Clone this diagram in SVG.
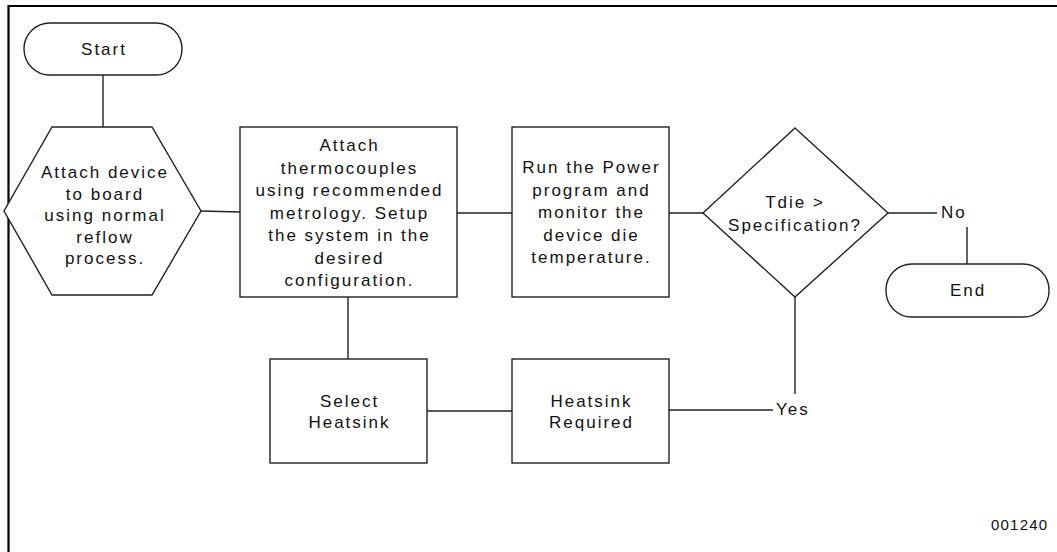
<svg xmlns="http://www.w3.org/2000/svg" width="1057" height="552" viewBox="0 0 1057 552">
<style>
.s{fill:#fff;stroke:#222;stroke-width:1.4}
.c{fill:none;stroke:#222;stroke-width:1.4}
text{font-family:"Liberation Sans",Arial,sans-serif;font-size:17px;letter-spacing:2px;fill:#111}
.m{text-anchor:middle}
</style>
<rect width="1057" height="552" fill="#fff"/>
<path d="M8.5,552 V6 H1057" fill="none" stroke="#000" stroke-width="2.2"/>
<g id="connectors">
<line class="c" x1="103" y1="75" x2="103" y2="127"/>
<line class="c" x1="201" y1="211" x2="240" y2="212"/>
<line class="c" x1="457" y1="213" x2="512" y2="213"/>
<line class="c" x1="669" y1="213" x2="703" y2="213"/>
<line class="c" x1="888" y1="213" x2="937" y2="213"/>
<line class="c" x1="967" y1="227" x2="967" y2="264"/>
<line class="c" x1="795" y1="297" x2="795" y2="394"/>
<line class="c" x1="669" y1="410" x2="773" y2="410"/>
<line class="c" x1="427" y1="411" x2="512" y2="411"/>
<line class="c" x1="348" y1="297" x2="348" y2="359"/>
</g>
<g id="start">
<rect class="s" x="24" y="23" width="158" height="52" rx="26"/>
<text class="m" x="104" y="55">Start</text>
</g>
<g id="attach-device">
<polygon class="s" points="52,127 152,127 201,211 152,295 52,295 4,211"/>
<text class="m" x="105" y="178">Attach device</text>
<text class="m" x="105" y="199.5">to board</text>
<text class="m" x="105" y="221">using normal</text>
<text class="m" x="105" y="242.5">reflow</text>
<text class="m" x="105" y="264">process.</text>
</g>
<g id="attach-thermocouples">
<rect class="s" x="240" y="127" width="217" height="170"/>
<text class="m" x="349.5" y="151">Attach</text>
<text class="m" x="349.5" y="173.5">thermocouples</text>
<text class="m" x="349.5" y="196">using recommended</text>
<text class="m" x="349.5" y="218.5">metrology. Setup</text>
<text class="m" x="349.5" y="241">the system in the</text>
<text class="m" x="349.5" y="263.5">desired</text>
<text class="m" x="349.5" y="286">configuration.</text>
</g>
<g id="run-power">
<rect class="s" x="512" y="127" width="157" height="170"/>
<text class="m" x="591.5" y="173">Run the Power</text>
<text class="m" x="591.5" y="195.5">program and</text>
<text class="m" x="591.5" y="218">monitor the</text>
<text class="m" x="591.5" y="240.5">device die</text>
<text class="m" x="591.5" y="263">temperature.</text>
</g>
<g id="decision">
<polygon class="s" points="795,128 888,213 795,297 703,213"/>
<text class="m" x="795" y="208">Tdie &gt;</text>
<text class="m" x="795" y="230.5">Specification?</text>
</g>
<g id="no-label">
<text x="941" y="218">No</text>
</g>
<g id="end">
<rect class="s" x="886" y="264" width="163" height="53" rx="26"/>
<text class="m" x="968" y="296">End</text>
</g>
<g id="yes-label">
<text x="776" y="415">Yes</text>
</g>
<g id="heatsink-required">
<rect class="s" x="512" y="359" width="157" height="104"/>
<text class="m" x="591.5" y="406.5">Heatsink</text>
<text class="m" x="591.5" y="428">Required</text>
</g>
<g id="select-heatsink">
<rect class="s" x="270" y="359" width="157" height="104"/>
<text class="m" x="349.5" y="406.5">Select</text>
<text class="m" x="349.5" y="428">Heatsink</text>
</g>
<text x="991" y="529.5" style="font-size:15px;letter-spacing:1.2px">001240</text>
</svg>
